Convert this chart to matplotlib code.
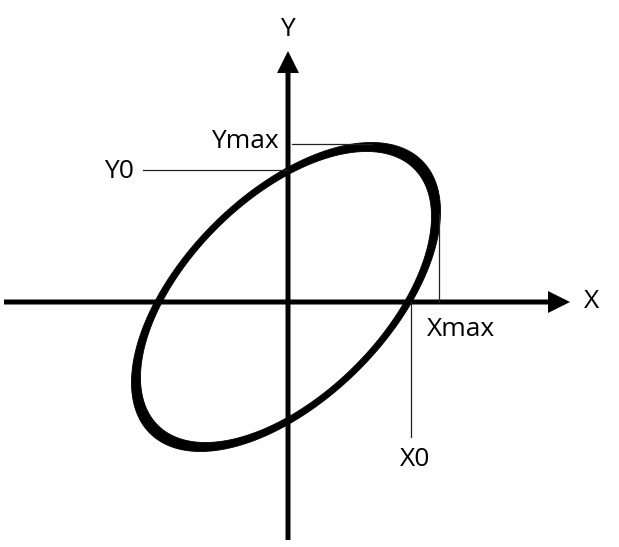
import numpy as np
import matplotlib
matplotlib.use("Agg")
import matplotlib.pyplot as plt
from matplotlib.patches import FancyArrowPatch

# ellipse (hysteresis loop) parameters, units ~ 100 px
center = (-0.02, 0.05)
x_amp = 1.50
y_amp = 1.50
phase_deg = 56.4
stroke = 0.03  # relative half-thickness of the loop outline

# guide values
x0 = 1.23
y0 = 1.32
x_max = 1.51
y_max = 1.58
x_max_y = 0.88
y_max_x = 0.84

# axis extents
x_axis = (-2.84, 2.82)
y_axis = (-2.38, 2.51)

plt.rcParams['font.family'] = ['Open Sans', 'DejaVu Sans']

fig = plt.figure(figsize=(6.19, 5.47), dpi=100)
ax = fig.add_axes([0, 0, 1, 1])
ax.set_xlim(-2.88, 3.31)
ax.set_ylim(-2.45, 3.02)
ax.axis('off')

# axes with arrows
for start, end in [((x_axis[0], 0), (x_axis[1], 0)), ((0, y_axis[0]), (0, y_axis[1]))]:
    arr = FancyArrowPatch(start, end, arrowstyle='-|>,head_length=1.0,head_width=0.5',
                          mutation_scale=10, lw=3.6, color='black',
                          shrinkA=0, shrinkB=0, joinstyle='miter', capstyle='butt')
    ax.add_patch(arr)

# loop, drawn as a band so it is thicker along the long axis
t = np.linspace(0, 2 * np.pi, 600)
phi = np.deg2rad(phase_deg)
ux = x_amp * np.sin(t)
uy = y_amp * np.sin(t + phi)
outer_x = center[0] + (1 + stroke) * ux
outer_y = center[1] + (1 + stroke) * uy
inner_x = center[0] + (1 - stroke) * ux[::-1]
inner_y = center[1] + (1 - stroke) * uy[::-1]
ax.fill(np.concatenate([outer_x, inner_x]), np.concatenate([outer_y, inner_y]),
        color='black', lw=0.6)

# guide lines
gl = dict(color='#222222', lw=0.9)
ax.plot([-1.45, 0], [y0, y0], **gl)
ax.plot([0.04, y_max_x], [y_max, y_max], **gl)
ax.plot([x_max, x_max], [0, x_max_y], **gl)
ax.plot([x0, x0], [0, -1.35], **gl)

# labels
fs = 19
ax.text(-0.01, 2.72, 'Y', fontsize=fs, ha='center', va='center')
ax.text(3.04, 0.0, 'X', fontsize=fs, ha='center', va='center')
ax.text(-0.09, 1.60, 'Ymax', fontsize=fs, ha='right', va='center')
ax.text(-1.54, 1.30, 'Y0', fontsize=fs, ha='right', va='center')
ax.text(1.39, -0.27, 'Xmax', fontsize=fs, ha='left', va='center')
ax.text(1.27, -1.58, 'X0', fontsize=fs, ha='center', va='center')

fig.savefig('out.png', dpi=100)
